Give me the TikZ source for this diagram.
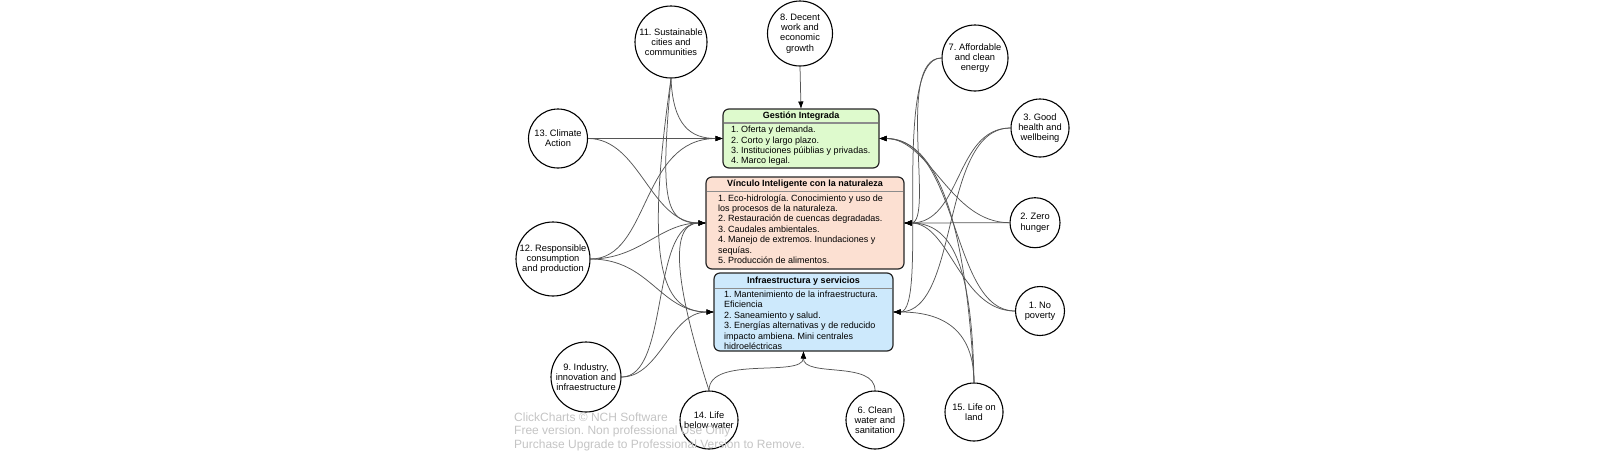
\documentclass[tikz,border=0pt]{standalone}
\usepackage{fontspec}
\setmainfont{Liberation Sans}
\usetikzlibrary{arrows.meta}
\definecolor{gfill}{RGB}{222,250,205}
\definecolor{vfill}{RGB}{252,224,210}
\definecolor{ifill}{RGB}{205,233,252}
\definecolor{conn}{RGB}{85,85,85}
\definecolor{wm}{RGB}{196,196,196}
\frenchspacing
\begin{document}
\begin{tikzpicture}[x=1pt,y=-1pt,
  sdg/.style={circle,draw=black,line width=1.1pt,fill=white,inner sep=0pt,align=center,font=\fontsize{9.3}{10.3}\selectfont},
  box/.style={draw=black!85,line width=1.2pt,rounded corners=6pt,inner sep=0pt,outer sep=0pt},
  hdr/.style={font=\fontsize{9}{10.4}\selectfont\bfseries,inner sep=0pt},
  body/.style={font=\fontsize{9}{10.4}\selectfont,inner sep=0pt,align=left,anchor=north west},
  sepl/.style={draw=black!45,line width=1.4pt},
  link/.style={draw=conn,line width=0.75pt,-{Latex[length=7.5pt,width=5.5pt,color=black]}},
]
\useasboundingbox (0,0) rectangle (1600,451);

% boxes
\node[box, fill=gfill, minimum width=156pt, minimum height=59pt] (G) at (801,138.5) {};
\node[box, fill=vfill, minimum width=198pt, minimum height=92pt] (V) at (805,223) {};
\node[box, fill=ifill, minimum width=179pt, minimum height=78pt] (I) at (803.5,312) {};
\draw[sepl] (723.6,123) -- (878.4,123);
\draw[sepl] (706.6,191.7) -- (903.4,191.7);
\draw[sepl] (714.6,288.3) -- (892.4,288.3);
\node[hdr] (Gh) at (801,116) {Gestión Integrada};
\node[hdr] (Vh) at (805,184.3) {Vínculo Inteligente con la naturaleza};
\node[hdr] (Ih) at (803.5,280.7) {Infraestructura y servicios};
\node[body] (Gb) at (731,126) {1. Oferta y demanda.\\2. Corto y largo plazo.\\3. Instituciones púiblias y privadas.\\4. Marco legal.};
\node[body] (Vb) at (718,194.3) {1. Eco-hidrología. Conocimiento y uso de\\los procesos de la naturaleza.\\2. Restauración de cuencas degradadas.\\3. Caudales ambientales.\\4. Manejo de extremos. Inundaciones y\\sequías.\\5. Producción de alimentos.};
\node[body] (Ib) at (724,290.7) {1. Mantenimiento de la infraestructura.\\Eficiencia\\2. Saneamiento y salud.\\3. Energías alternativas y de reducido\\impacto ambiena. Mini centrales\\hidroeléctricas};

% circles
\node[sdg, minimum size=72pt] (c11) at (671,42) {11. Sustainable\\cities and\\communities};
\node[sdg, minimum size=65pt] (c8) at (800,33.5) {8. Decent\\work and\\economic\\growth};
\node[sdg, minimum size=66pt] (c7) at (975,58) {7. Affordable\\and clean\\energy};
\node[sdg, minimum size=58pt] (c3) at (1040,128) {3. Good\\health and\\wellbeing};
\node[sdg, minimum size=50pt] (c2) at (1035,222.7) {2. Zero\\hunger};
\node[sdg, minimum size=49pt] (c1) at (1040,311) {1. No\\poverty};
\node[sdg, minimum size=58pt] (c15) at (974,412) {15. Life on\\land};
\node[sdg, minimum size=58pt] (c6) at (875,420) {6. Clean\\water and\\sanitation};
\node[sdg, minimum size=58pt] (c14) at (709,420) {14. Life\\below water};
\node[sdg, minimum size=70pt] (c9) at (586,377) {9. Industry,\\innovation and\\infraestructure};
\node[sdg, minimum size=74pt] (c12) at (553,259) {12. Responsible\\consumption\\and production};
\node[sdg, minimum size=59pt] (c13) at (558,138.5) {13. Climate\\Action};

% left connectors
\draw[link] (c8.south) -- (G.north);
\draw[link] (c13.east) -- (G.west);
\draw[link] (c13.east) .. controls (640,138.5) and (650,223) .. (V.west);
\draw[link] (c11.south) .. controls (673,125) and (690,138.5) .. (G.west);
\draw[link] (c11.south) .. controls (660,200) and (665,223) .. (V.west);
\draw[link] (c11.south) .. controls (645,260) and (660,312) .. (I.west);
\draw[link] (c12.east) .. controls (650,259) and (640,138.5) .. (G.west);
\draw[link] (c12.east) .. controls (640,259) and (660,223) .. (V.west);
\draw[link] (c12.east) .. controls (650,259) and (660,312) .. (I.west);
\draw[link] (c9.east) .. controls (670,377) and (650,223) .. (V.west);
\draw[link] (c9.east) .. controls (660,377) and (670,312) .. (I.west);
\draw[link] (c14.north) .. controls (680,300) and (665,223) .. (V.west);
\draw[link] (c14.north) .. controls (709,355) and (803,378) .. (I.south);
\draw[link] (c6.north) .. controls (875,360) and (803,378) .. (I.south);

% right connectors
\draw[link] (c2.west) -- (V.east);
\draw[link] (c2.west) .. controls (950,222.7) and (930,138.5) .. (G.east);
\draw[link] (c3.west) .. controls (955,128) and (962,223) .. (V.east);
\draw[link] (c3.west) .. controls (940,128) and (960,312) .. (I.east);
\draw[link] (c1.west) .. controls (960,311) and (950,223) .. (V.east);
\draw[link] (c1.west) .. controls (950,311) and (960,138.5) .. (G.east);
\draw[link] (c7.west) .. controls (895,58) and (935,223) .. (V.east);
\draw[link] (c7.west) .. controls (890,58) and (930,312) .. (I.east);
\draw[link] (c15.north) .. controls (972,260) and (950,223) .. (V.east);
\draw[link] (c15.north) .. controls (974,320) and (930,312) .. (I.east);
\draw[link] (c15.north) .. controls (965,200) and (930,138.5) .. (G.east);

% watermark
\node[anchor=north west, inner sep=0pt, align=left, text=wm, font=\fontsize{12}{13.3}\selectfont] (wmk) at (514,412.6) {ClickCharts © NCH Software\\Free version. Non professional Use Only\\Purchase Upgrade to Professional Version to Remove.};
\end{tikzpicture}
\end{document}
